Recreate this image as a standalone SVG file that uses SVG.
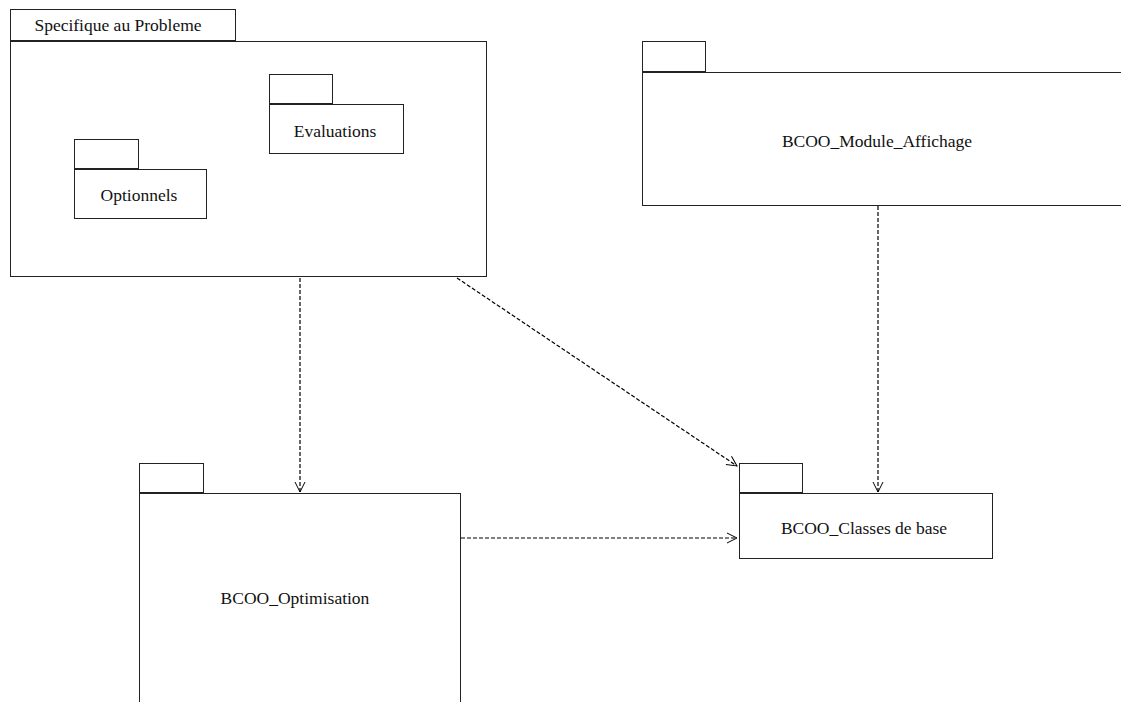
<svg xmlns="http://www.w3.org/2000/svg" width="1121" height="702" viewBox="0 0 1121 702">
<style>
.b{fill:#fff;stroke:#222;stroke-width:1}
.t{font-family:"Liberation Serif",serif;font-size:17.5px;fill:#111;text-anchor:middle}
.c{fill:none;stroke:#000;stroke-width:1.2;stroke-dasharray:4,2}
</style>
<defs>
<marker id="a" markerWidth="14" markerHeight="14" refX="12" refY="7" orient="auto" markerUnits="userSpaceOnUse">
<path d="M2,2 L12,7 L2,12" fill="none" stroke="#000" stroke-width="1"/>
</marker>
</defs>
<rect width="1121" height="702" fill="#fff"/>
<g id="specifique">
<rect class="b" x="10.5" y="9.5" width="225" height="31"/>
<rect class="b" x="10.5" y="41.5" width="476" height="235"/>
<text class="t" x="118" y="31">Specifique au Probleme</text>
</g>
<g id="evaluations">
<rect class="b" x="269.5" y="74.5" width="63" height="29"/>
<rect class="b" x="269.5" y="104.5" width="134" height="49"/>
<text class="t" x="335" y="137">Evaluations</text>
</g>
<g id="optionnels">
<rect class="b" x="74.5" y="139.5" width="64" height="29"/>
<rect class="b" x="74.5" y="169.5" width="132" height="49"/>
<text class="t" x="139" y="201">Optionnels</text>
</g>
<g id="affichage">
<rect class="b" x="642.5" y="41.5" width="63" height="30"/>
<rect class="b" x="642.5" y="72.5" width="500" height="133"/>
<text class="t" x="877" y="147">BCOO_Module_Affichage</text>
</g>
<g id="optimisation">
<rect class="b" x="139.5" y="463.5" width="64" height="29"/>
<rect class="b" x="139.5" y="493.5" width="321" height="230"/>
<text class="t" x="295" y="604">BCOO_Optimisation</text>
</g>
<g id="classes">
<rect class="b" x="739.5" y="463.5" width="63" height="29"/>
<rect class="b" x="739.5" y="493.5" width="253" height="65"/>
<text class="t" x="864" y="534">BCOO_Classes de base</text>
</g>
<g id="connectors">
<line class="c" x1="300" y1="278" x2="300" y2="492" marker-end="url(#a)"/>
<line class="c" x1="457" y1="278" x2="737" y2="466" marker-end="url(#a)"/>
<line class="c" x1="878" y1="206" x2="878" y2="492" marker-end="url(#a)"/>
<line class="c" x1="461" y1="538" x2="737" y2="538" marker-end="url(#a)"/>
</g>
</svg>
